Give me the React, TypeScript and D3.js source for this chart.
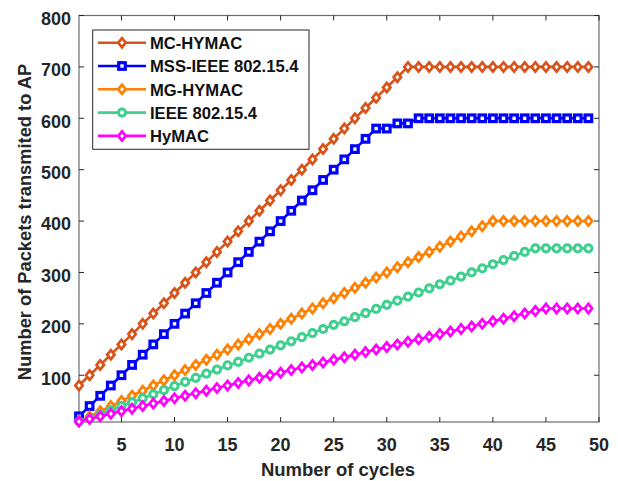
import React from 'react';
import * as d3 from 'd3';

const cycles = d3.range(1, 50);

const mcHymac = [80, 100, 120, 140, 160, 180, 200, 220, 240, 260, 280, 300, 320, 340, 360, 380, 400, 420, 440, 460, 480, 500, 520, 540, 560, 580, 600, 620, 640, 660, 680, 700,
  700, 700, 700, 700, 700, 700, 700, 700, 700, 700, 700, 700, 700, 700, 700, 700, 700];
const mssIeee = [20, 40, 60, 80, 100, 120, 140, 160, 180, 200, 220, 240, 260, 280, 300, 320, 340, 360, 380, 400, 420, 440, 460, 480, 500, 520, 540, 560, 580, 580, 590, 590,
  600, 600, 600, 600, 600, 600, 600, 600, 600, 600, 600, 600, 600, 600, 600, 600, 600];
const mgHymac = [10, 20, 30, 40, 50, 60, 70, 80, 90, 100, 110, 120, 130, 140, 150, 160, 170, 180, 190, 200, 210, 220, 230, 240, 250, 260, 270, 280, 290, 300, 310, 320,
  330, 340, 350, 360, 370, 380, 390, 400, 400, 400, 400, 400, 400, 400, 400, 400, 400];
const ieee = [10, 16, 24, 32, 40, 47, 55, 63, 71, 79, 87, 95, 103, 111, 119, 126, 134, 142, 150, 158, 166, 174, 182, 190, 198, 205, 213, 221, 229, 237, 245, 253,
  261, 269, 277, 284, 292, 300, 308, 316, 324, 332, 340, 347, 347, 347, 347, 347, 347];
const hymac = [10, 15, 20, 25, 30, 35, 40, 45, 50, 55, 60, 65, 70, 75, 80, 85, 90, 95, 100, 105, 110, 115, 120, 125, 130, 135, 140, 145, 150, 155, 160, 165,
  170, 175, 180, 185, 190, 195, 200, 205, 210, 215, 220, 225, 230, 230, 230, 230, 230];

const xTicks = [5, 10, 15, 20, 25, 30, 35, 40, 45, 50];
const yTicks = [100, 200, 300, 400, 500, 600, 700, 800];

const series = [
  { name: 'MC-HYMAC', values: mcHymac, color: '#D95319', marker: 'diamond' },
  { name: 'MSS-IEEE 802.15.4', values: mssIeee, color: '#0000FF', marker: 'square' },
  { name: 'MG-HYMAC', values: mgHymac, color: '#FF8000', marker: 'diamond' },
  { name: 'IEEE 802.15.4', values: ieee, color: '#3FCF8E', marker: 'circle' },
  { name: 'HyMAC', values: hymac, color: '#FF00FF', marker: 'diamond' },
];

const W = 618;
const H = 481;
const plot = { left: 79, right: 599, top: 15.5, bottom: 422 };
const font = '"Liberation Sans", Arial, sans-serif';
const ink = '#262626';

const Marker = ({ kind, x, y, color }: { kind: string; x: number; y: number; color: string }) => {
  if (kind === 'square') {
    return <rect x={x - 3.3} y={y - 3.3} width={6.6} height={6.6} fill="white" stroke={color} strokeWidth={3.2} />;
  }
  if (kind === 'circle') {
    return <circle cx={x} cy={y} r={3.6} fill="white" stroke={color} strokeWidth={3} />;
  }
  return (
    <path d={`M${x},${y - 4.6}L${x + 3.7},${y}L${x},${y + 4.6}L${x - 3.7},${y}Z`} fill="white" stroke={color} strokeWidth={2.7} />
  );
};

const App = () => {
  const x = d3.scaleLinear().domain([1, 50]).range([plot.left, plot.right]);
  const y = d3.scaleLinear().domain([9, 800]).range([plot.bottom, plot.top]);
  const line = d3.line<number>().x((_, i) => x(cycles[i])).y((d) => y(d));
  const tick = 5;

  return (
    <svg width={W} height={H} style={{ position: 'absolute', left: 0, top: 0, background: 'white' }}>
      <rect x={0} y={0} width={W} height={H} fill="white" />

      {/* axes box with inner ticks */}
      <rect x={plot.left} y={plot.top} width={plot.right - plot.left} height={plot.bottom - plot.top} fill="none" stroke="#6b6b6b" strokeWidth={1.2} />
      {xTicks.map((t) => (
        <g key={'xt' + t}>
          <line x1={x(t)} x2={x(t)} y1={plot.bottom} y2={plot.bottom - tick} stroke={ink} />
          <line x1={x(t)} x2={x(t)} y1={plot.top} y2={plot.top + tick} stroke={ink} />
          <text x={x(t)} y={451} textAnchor="middle" fontFamily={font} fontWeight="bold" fontSize={18} fill={ink}>{t}</text>
        </g>
      ))}
      {yTicks.map((t) => (
        <g key={'yt' + t}>
          <line x1={plot.left} x2={plot.left + tick} y1={y(t)} y2={y(t)} stroke={ink} />
          <line x1={plot.right} x2={plot.right - tick} y1={y(t)} y2={y(t)} stroke={ink} />
          <text x={71} y={y(t) + 9.4} textAnchor="end" fontFamily={font} fontWeight="bold" fontSize={18} fill={ink}>{t}</text>
        </g>
      ))}

      {/* series */}
      {series.map((s) => (
        <g key={s.name}>
          <path d={line(s.values) || ''} fill="none" stroke={s.color} strokeWidth={2.6} />
          {s.values.map((v, i) => (
            <Marker key={i} kind={s.marker} x={x(cycles[i])} y={y(v)} color={s.color} />
          ))}
        </g>
      ))}

      {/* axis labels */}
      <text x={338} y={476} textAnchor="middle" fontFamily={font} fontWeight="bold" fontSize={18.5} fill={ink}>Number of cycles</text>
      <text transform="translate(31,222) rotate(-90)" textAnchor="middle" fontFamily={font} fontWeight="bold" fontSize={18.3} fill={ink}>
        Number of Packets transmited to AP
      </text>

      {/* legend */}
      <rect x={92.7} y={30} width={216.3} height={119.3} fill="white" stroke="#262626" strokeWidth={1} />
      {series.map((s, i) => {
        const cy = 42.7 + i * 23.3;
        return (
          <g key={'lg' + s.name}>
            <line x1={98} x2={146} y1={cy} y2={cy} stroke={s.color} strokeWidth={2.6} />
            <Marker kind={s.marker} x={122} y={cy} color={s.color} />
            <text x={150} y={cy + 6.4} fontFamily={font} fontWeight="bold" fontSize={16.6} fill="#111">{s.name}</text>
          </g>
        );
      })}
    </svg>
  );
};

export default App;
